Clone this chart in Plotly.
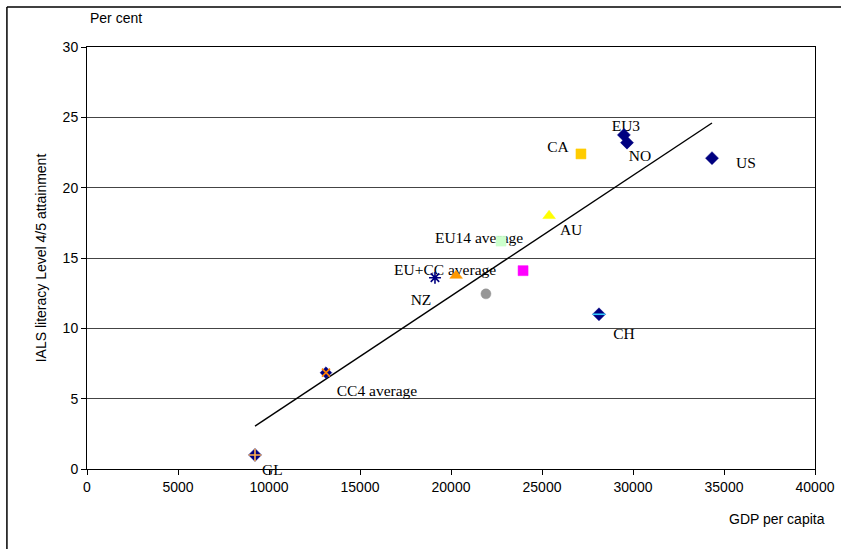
import plotly.graph_objects as go

# GDP per capita vs share of adults at IALS literacy level 4/5
points = ["GL", "CC4 average", "NZ", "EU+CC average", "Group A", "Group B",
          "EU14 average", "AU", "CA", "EU3", "NO", "US", "CH"]
gdp = [9230, 13130, 19120, 20280, 21920, 23960,
       22750, 25390, 27140, 29500, 29670, 34340, 28130]
literacy = [1.0, 6.85, 13.6, 13.75, 12.45, 14.1,
            16.2, 18.0, 22.4, 23.75, 23.2, 22.1, 11.0]
point_labels = ["GL", "CC4 average", "NZ", "EU+CC average", "", "",
                "EU14 average", "AU", "CA", "EU3", "NO", "US", "CH"]

# Fitted trend line end points
trend_gdp = [9230, 34340]
trend_lit = [3.05, 24.6]

x_ticks = [0, 5000, 10000, 15000, 20000, 25000, 30000, 35000, 40000]
y_ticks = [0, 5, 10, 15, 20, 25, 30]
X_RANGE = [0, 40000]
Y_RANGE = [0, 30]

W, H = 841, 549
M = dict(l=87, r=26, t=47, b=80)
px_per_x = (W - M["l"] - M["r"]) / (X_RANGE[1] - X_RANGE[0])
px_per_y = (H - M["t"] - M["b"]) / (Y_RANGE[1] - Y_RANGE[0])

NAVY = "#000080"
# marker style per point: (symbol, fill, line colour, size, overlay symbol, overlay colour)
styles = {
    "GL": ("diamond", NAVY, NAVY, 10, "cross-thin", "#FFB050"),
    "CC4 average": ("diamond", NAVY, NAVY, 9, "x-thin", "#FF7F00"),
    "NZ": ("asterisk-open", NAVY, NAVY, 10, None, None),
    "EU+CC average": ("triangle-up", "#FF9900", "#FF9900", 11, None, None),
    "Group A": ("circle", "#969696", "#969696", 10, None, None),
    "Group B": ("square", "#FF00FF", "#FF00FF", 10, None, None),
    "EU14 average": ("square", "#CCFFCC", "#CCFFCC", 10, None, None),
    "AU": ("triangle-up", "#FFFF00", "#FFFF00", 11, None, None),
    "CA": ("square", "#FFCC00", "#FFCC00", 10, None, None),
    "EU3": ("diamond", NAVY, NAVY, 10, None, None),
    "NO": ("diamond", NAVY, NAVY, 10, None, None),
    "US": ("diamond", NAVY, NAVY, 10, None, None),
    "CH": ("diamond", NAVY, NAVY, 10, "line-ew", "#33CCFF"),
}
# label offset from its marker, in pixels (right, up)
label_shift = {
    "GL": (18, -15), "CC4 average": (51, -19), "NZ": (-14, -23),
    "EU+CC average": (-11, 4), "EU14 average": (-22, 2), "AU": (22, -15),
    "CA": (-23, 6), "EU3": (2, 8), "NO": (13, -14), "US": (34, -6),
    "CH": (25, -21),
}

SERIF = "Liberation Serif, Times New Roman, serif"
SANS = "Liberation Sans Narrow, Arial Narrow, Liberation Sans, Arial, sans-serif"
label_font = dict(family=SERIF, size=15.5, color="black")
axis_font = dict(family=SANS, size=14, color="black")

fig = go.Figure()

# point labels: those inside the plot sit underneath the markers,
# those hanging past the axis are drawn as annotations
lab_x, lab_y, lab_t = [], [], []
for name, lab, gx, ly in zip(points, point_labels, gdp, literacy):
    if not lab:
        continue
    dx, dy = label_shift[name]
    lx = gx + dx / px_per_x
    lyy = ly + dy / px_per_y
    if Y_RANGE[0] + 0.4 < lyy < Y_RANGE[1]:
        lab_x.append(lx)
        lab_y.append(lyy)
        lab_t.append(lab)
    else:
        fig.add_annotation(x=gx, y=ly, text=lab, showarrow=False,
                           xshift=dx, yshift=dy, font=label_font)
fig.add_trace(go.Scatter(x=lab_x, y=lab_y, text=lab_t, mode="text",
                         textposition="middle center", hoverinfo="skip",
                         textfont=label_font, showlegend=False))

fig.add_trace(go.Scatter(x=trend_gdp, y=trend_lit, mode="lines",
                         line=dict(color="black", width=1.4),
                         hoverinfo="skip", showlegend=False))

for name, gx, ly in zip(points, gdp, literacy):
    sym, fill, lc, size, over, oc = styles[name]
    open_sym = sym.endswith("-open")
    fig.add_trace(go.Scatter(
        x=[gx], y=[ly], mode="markers", name=name, showlegend=False,
        marker=dict(symbol=sym, size=size, color=fill,
                    line=dict(color=lc, width=1.6 if open_sym else 0.5))))
    if over:
        fig.add_trace(go.Scatter(
            x=[gx], y=[ly], mode="markers", showlegend=False, hoverinfo="skip",
            marker=dict(symbol=over, size=size - 1, color=oc,
                        line=dict(color=oc, width=1.6))))

fig.add_annotation(xref="paper", yref="paper", x=0.04, y=1.0687,
                   xanchor="center", yanchor="middle", text="Per cent",
                   showarrow=False, font=axis_font)
fig.add_annotation(xref="paper", yref="paper", x=1.016, y=-0.118,
                   xanchor="right", yanchor="middle", text="GDP per capita",
                   showarrow=False, font=axis_font)

# outer frame on the left and top
fig.add_shape(type="line", xref="paper", yref="paper",
              x0=-0.110, x1=-0.110, y0=-0.25, y1=1.095,
              line=dict(color="black", width=1.5))
fig.add_shape(type="line", xref="paper", yref="paper",
              x0=-0.110, x1=1.05, y0=1.095, y1=1.095,
              line=dict(color="black", width=1.5))

fig.update_xaxes(range=X_RANGE, tickvals=x_ticks, automargin=False,
                 ticktext=[str(v) for v in x_ticks], ticks="outside",
                 ticklen=5, tickcolor="black", showgrid=False, zeroline=False,
                 showline=True, linecolor="black", linewidth=1, mirror=True,
                 tickfont=axis_font)
fig.update_yaxes(range=Y_RANGE, tickvals=y_ticks, automargin=False,
                 ticktext=[str(v) for v in y_ticks], ticks="outside",
                 ticklen=5, tickcolor="black", showgrid=True,
                 gridcolor="#444444", gridwidth=1, zeroline=False,
                 showline=True, linecolor="black", linewidth=1, mirror=True,
                 title=dict(text="IALS literacy Level 4/5 attainment",
                            font=axis_font, standoff=12),
                 tickfont=axis_font)

fig.update_layout(width=W, height=H, margin=M,
                  plot_bgcolor="white", paper_bgcolor="white")

fig.write_html("out.html")
